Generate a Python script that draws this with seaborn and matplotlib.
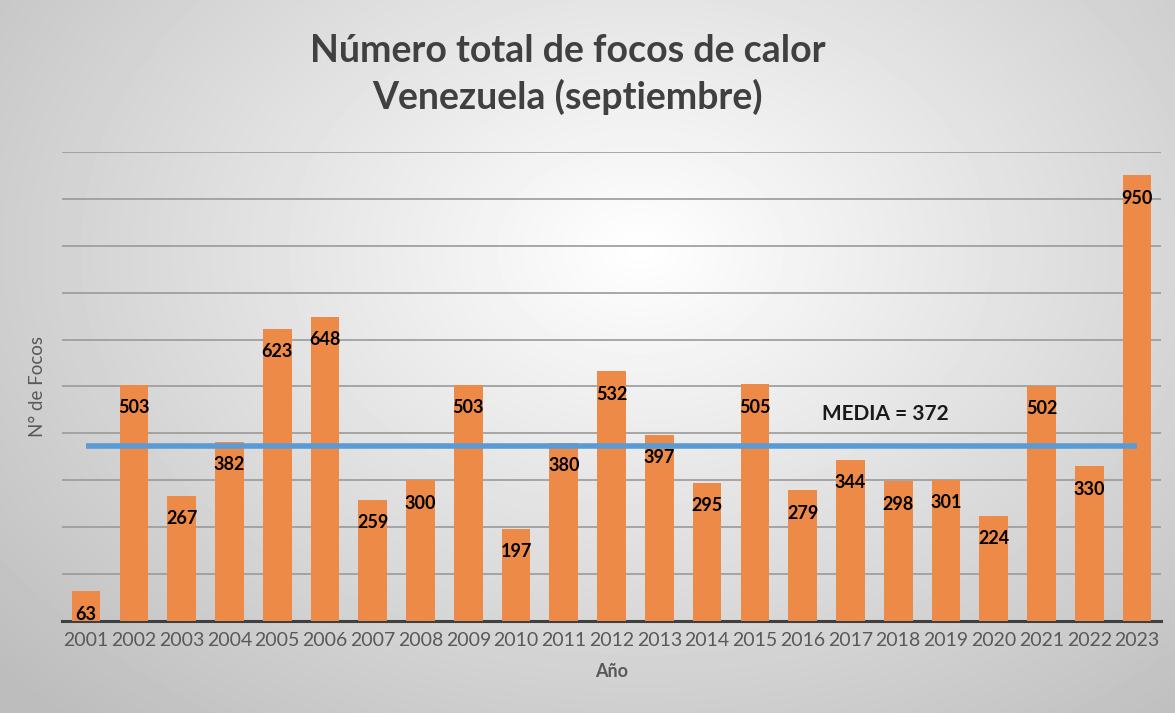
import numpy as np
import pandas as pd
import matplotlib
matplotlib.use("Agg")
import matplotlib.pyplot as plt
import seaborn as sns

# --- datos ---
years = [str(y) for y in range(2001, 2024)]
focos = [63, 503, 267, 382, 623, 648, 259, 300, 503, 197, 380, 532,
         397, 295, 505, 279, 344, 298, 301, 224, 502, 330, 950]
media = 372
title = "Número total de focos de calor\nVenezuela (septiembre)"

df = pd.DataFrame({"Año": years, "Focos": focos})

sns.set_theme(style="white")
plt.rcParams["font.family"] = ["Lato", "DejaVu Sans"]

fig = plt.figure(figsize=(11.75, 7.13), dpi=100)

# fondo con degradado radial (blanco al centro, gris en los bordes)
bg = fig.add_axes([0, 0, 1, 1], zorder=-10)
yy, xx = np.mgrid[0:713, 0:1175]
r = np.sqrt(((xx - 640) / 900) ** 2 + ((yy - 250) / 650) ** 2)
shade = np.clip(1.0 - 0.27 * r, 0.74, 1.0)
bg.imshow(shade, cmap="gray", vmin=0, vmax=1, aspect="auto", extent=[0, 1, 0, 1])
bg.axis("off")

ax = fig.add_axes([0.053, 0.129, 0.935, 0.658])
ax.set_facecolor("none")

sns.barplot(data=df, x="Año", y="Focos", color="#EE8A48", saturation=1,
            width=0.6, linewidth=0, ax=ax, zorder=3)

ax.set_ylim(0, 1000)
ax.set_xlim(-0.5, len(years) - 0.5)
ax.set_yticks(np.arange(0, 1001, 100))
ax.set_yticklabels([])
ax.tick_params(axis="y", length=0)
ax.tick_params(axis="x", length=0, labelsize=14, labelcolor="#595959", pad=8)
ax.grid(axis="y", color="#9a9a9a", linewidth=1.2, zorder=0)
ax.set_axisbelow(True)
for s in ["top", "right", "left"]:
    ax.spines[s].set_visible(False)
ax.spines["bottom"].set_color("#404040")
ax.spines["bottom"].set_linewidth(2.2)

for p, v in zip(ax.patches, focos):
    ax.annotate(str(v), (p.get_x() + p.get_width() / 2, p.get_height()),
                xytext=(0, -16.5), textcoords="offset points",
                ha="center", va="center", fontsize=13, fontweight="bold",
                color="black", zorder=5)

ax.hlines(media, 0, len(years) - 1, color="#5B9BD5", linewidth=4, zorder=4)
ax.text(15.4, media + 70, f"MEDIA = {media}", fontsize=15, fontweight="bold",
        color="#1a1a1a", ha="left", va="center")

ax.set_xlabel("Año", fontsize=13, fontweight="bold", color="#595959", labelpad=10)
ax.set_ylabel("N° de Focos", fontsize=13.5, color="#595959", labelpad=8)

fig.text(0.483, 0.895, title, ha="center", va="center", fontsize=27,
         fontweight="bold", color="#404040", linespacing=1.35)

fig.savefig("out.png", dpi=100)
